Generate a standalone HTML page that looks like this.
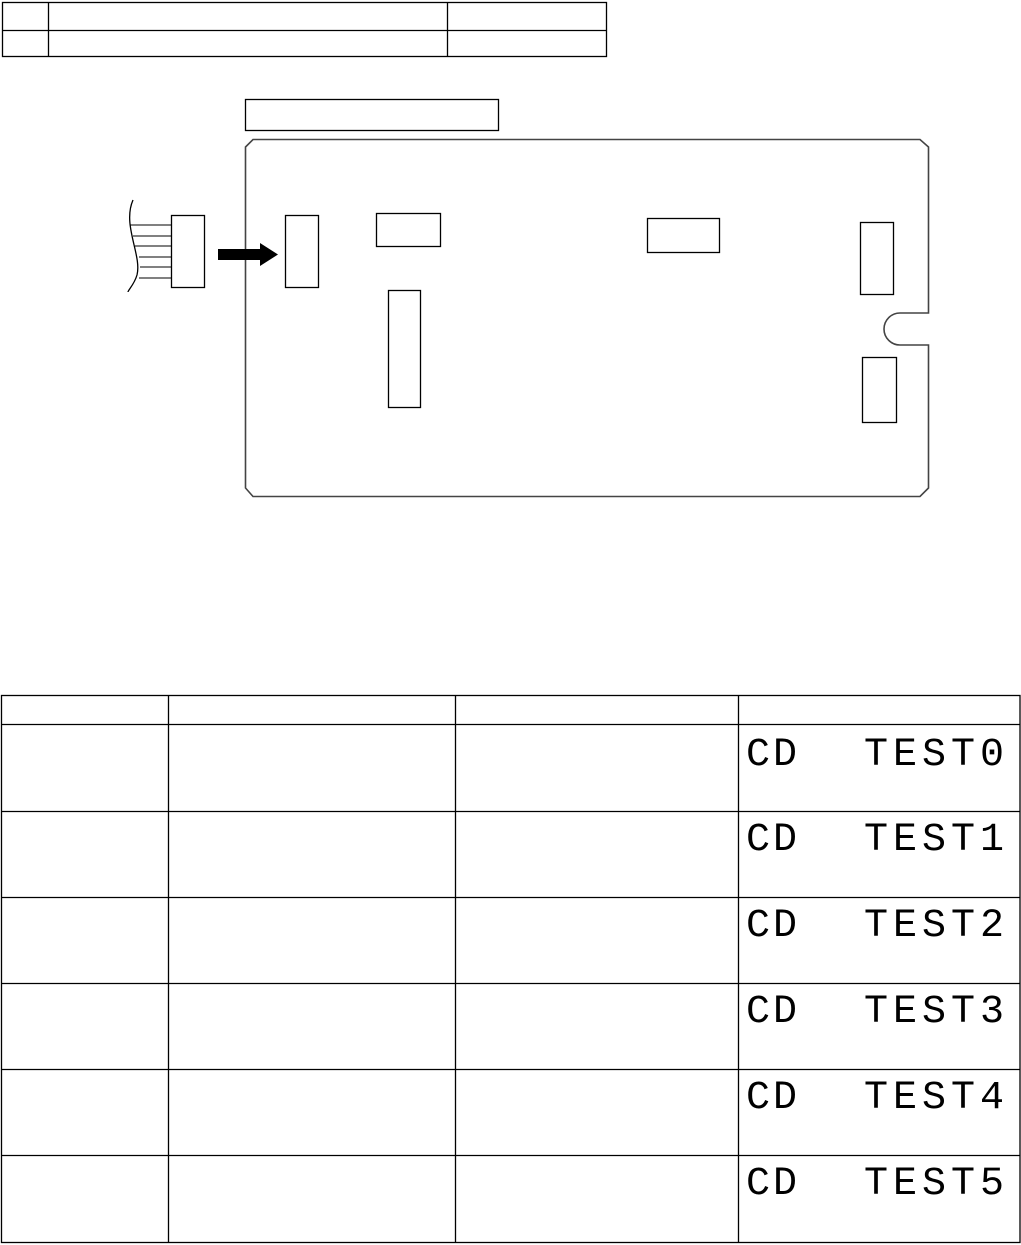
<!DOCTYPE html>
<html><head><style>
body{margin:0;background:#fff;width:1021px;height:1245px;overflow:hidden}
.lcd{position:absolute;font-family:"Liberation Mono",monospace;font-size:40px;line-height:40px;white-space:pre;color:#000}
.a{left:746px;letter-spacing:3px}
.b{left:864px;letter-spacing:5px}
</style></head><body>
<svg width="1021" height="1245" style="position:absolute;left:0;top:0" fill="none" stroke="#000" stroke-width="1.3">
<rect x="2.5" y="2.5" width="604" height="54"/>
<line x1="2" y1="30.5" x2="607" y2="30.5"/>
<line x1="48.5" y1="2" x2="48.5" y2="57"/>
<line x1="447.5" y1="2" x2="447.5" y2="57"/>
<rect x="245.5" y="99.5" width="253" height="31"/>
<path d="M253 139.5 H920 L928.5 147 V313 H900 A16 16 0 0 0 900 345 H928.5 V488 L920 496.5 H253 L245.5 488 V147 Z" stroke="#444" stroke-width="1.6"/>
<path d="M133 200 C122 225,142 255,137 275 C134 285,128 290,128 292"/>
<g stroke-width="1">
<line x1="130" y1="225" x2="171" y2="225"/><line x1="133" y1="236" x2="171" y2="236"/>
<line x1="135" y1="246" x2="171" y2="246"/><line x1="139" y1="257" x2="171" y2="257"/>
<line x1="140" y1="267" x2="171" y2="267"/><line x1="139" y1="278" x2="171" y2="278"/>
</g>
<rect x="171.5" y="215.5" width="33" height="72"/>
<path d="M218 249 H260 V243 L278 254.5 L260 266 V260 H218 Z" fill="#000" stroke="none"/>
<rect x="285.5" y="215.5" width="33" height="72"/>
<rect x="376.5" y="213.5" width="64" height="33"/>
<rect x="388.5" y="290.5" width="32" height="117"/>
<rect x="647.5" y="218.5" width="72" height="34"/>
<rect x="860.5" y="222.5" width="33" height="72"/>
<rect x="862.5" y="357.5" width="34" height="65"/>
<rect x="1.5" y="695.5" width="1018.5" height="547"/>
<line x1="1" y1="724.5" x2="1020" y2="724.5"/>
<line x1="1" y1="811.5" x2="1020" y2="811.5"/>
<line x1="1" y1="897.5" x2="1020" y2="897.5"/>
<line x1="1" y1="983.5" x2="1020" y2="983.5"/>
<line x1="1" y1="1069.5" x2="1020" y2="1069.5"/>
<line x1="1" y1="1155.5" x2="1020" y2="1155.5"/>
<line x1="168.5" y1="695" x2="168.5" y2="1243"/>
<line x1="455.5" y1="695" x2="455.5" y2="1243"/>
<line x1="738.5" y1="695" x2="738.5" y2="1243"/>
</svg>
<div class="lcd a" style="top:736px">CD</div><div class="lcd b" style="top:736px">TEST0</div>
<div class="lcd a" style="top:821px">CD</div><div class="lcd b" style="top:821px">TEST1</div>
<div class="lcd a" style="top:907px">CD</div><div class="lcd b" style="top:907px">TEST2</div>
<div class="lcd a" style="top:993px">CD</div><div class="lcd b" style="top:993px">TEST3</div>
<div class="lcd a" style="top:1079px">CD</div><div class="lcd b" style="top:1079px">TEST4</div>
<div class="lcd a" style="top:1165px">CD</div><div class="lcd b" style="top:1165px">TEST5</div>
</body></html>
